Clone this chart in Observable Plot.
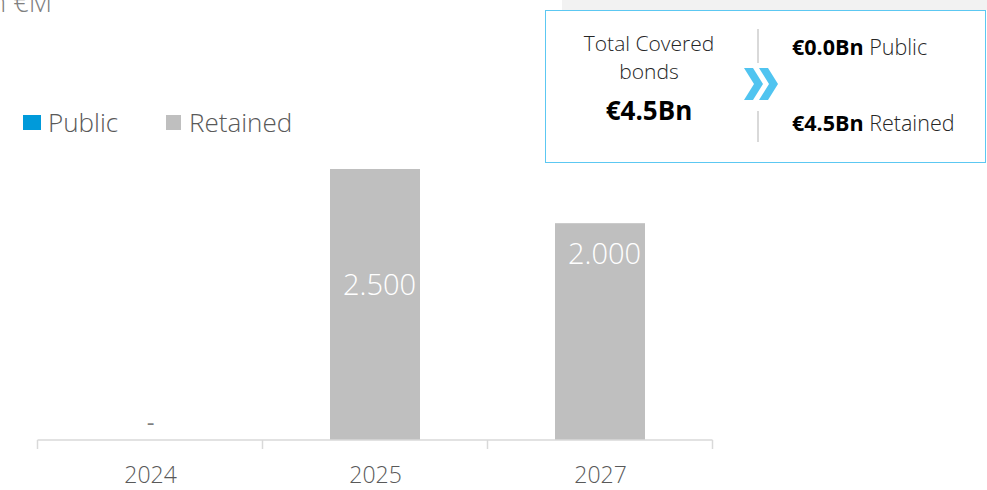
<!DOCTYPE html>
<html>
<head>
<meta charset="utf-8">
<script src="https://cdn.jsdelivr.net/npm/d3@7"></script>
<script src="https://cdn.jsdelivr.net/npm/@observablehq/plot@0.6"></script>
<style>
  html, body { margin: 0; padding: 0; background: #fff; overflow: hidden; }
  body { width: 987px; height: 490px; position: relative; font-family: "Open Sans", sans-serif; }
  #chart { position: absolute; left: 0; top: 0; }
  .abs { position: absolute; white-space: nowrap; }
  .unit { right: 935px; top: -17px; font-size: 27px; color: #808080; font-weight: 300; }
  .band { left: 562px; top: 0; width: 425px; height: 10px; background: #f2f2f2; }
  .box { left: 545px; top: 10px; width: 441px; height: 153px; border: 1.5px solid #5cc8f2; box-sizing: border-box; background: #fff; }
  .leg { top: 104px; font-size: 26px; color: #595959; font-weight: 300; }
  .btxt { color: #262626; font-size: 21.5px; }
  .btxt b { color: #000; }
</style>
</head>
<body>
<div id="chart"></div>
<script>
const categories = ["2024", "2025", "2027"];
const seriesNames = ["Public", "Retained"];
const publicValues = [0, 0, 0];
const retainedValues = [0, 2500, 2000];
const valueLabels = ["-", "2.500", "2.000"];
const seriesColors = ["#009ada", "#bfbfbf"];
const totalLabel = "€4.5Bn";
const publicTotalLabel = "€0.0Bn";
const retainedTotalLabel = "€4.5Bn";

const rows = [];
categories.forEach((c, i) => {
  rows.push({year: c, series: "Public", value: publicValues[i], label: valueLabels[i]});
  rows.push({year: c, series: "Retained", value: retainedValues[i], label: valueLabels[i]});
});
const retainedRows = rows.filter(d => d.series === "Retained");

// band boundary separator ticks and baseline drawn from the scales
function bandTicks(index, scales, values, dimensions) {
  const x = scales.x, y = scales.y;
  const bw = x.bandwidth();
  const step = x.step();
  const y0 = y(0);
  const g = d3.create("svg:g");
  const dom = x.domain();
  const edges = dom.map(d => x(d) - (step - bw) / 2);
  edges.push(x(dom[dom.length - 1]) + bw + (step - bw) / 2);
  edges.forEach(e => {
    g.append("line").attr("x1", e).attr("x2", e).attr("y1", y0).attr("y2", y0 + 9)
      .attr("stroke", "#d9d9d9").attr("stroke-width", 1.5);
  });
  g.append("line").attr("x1", edges[0]).attr("x2", edges[edges.length - 1])
    .attr("y1", y0).attr("y2", y0).attr("stroke", "#d9d9d9").attr("stroke-width", 1.5);
  return g.node();
}

const chart = Plot.plot({
  width: 987,
  height: 490,
  marginLeft: 37,
  marginRight: 275,
  marginTop: 169,
  marginBottom: 50,
  style: {fontFamily: "Open Sans, sans-serif", background: "transparent"},
  x: {domain: categories, paddingInner: 0.6, paddingOuter: 0.3, label: null},
  y: {domain: [0, 2500], axis: null},
  color: {domain: seriesNames, range: seriesColors},
  marks: [
    Plot.barY(rows, {x: "year", y: "value", fill: "series", order: seriesNames}),
    bandTicks,
    Plot.axisX({tickSize: 0, tickPadding: 26, fontSize: 23, fill: "#595959", fontWeight: 300, label: null}),
    Plot.text(retainedRows.filter(d => d.year === "2025"), {x: "year", y: "value", text: "label", dy: 116, dx: 4, fill: "#fff", fontSize: 29, fontWeight: 300}),
    Plot.text(retainedRows.filter(d => d.year === "2027"), {x: "year", y: "value", text: "label", dy: 31, dx: 4, fill: "#fff", fontSize: 29, fontWeight: 300}),
    Plot.text(retainedRows.filter(d => d.value === 0), {x: "year", y: "value", text: "label", dy: -17, fill: "#7f7f7f", fontSize: 24})
  ]
});
document.getElementById("chart").appendChild(chart);

// overlays
const body = document.body;
function add(html) { body.insertAdjacentHTML("beforeend", html); }
add(`<div class="abs unit">in €M</div>`);
add(`<div class="abs band"></div>`);
add(`<div class="abs box"></div>`);
add(`<div class="abs" style="left:23px;top:115px;width:18px;height:15px;background:${seriesColors[0]}"></div>`);
add(`<div class="abs leg" style="left:48px">${seriesNames[0]}</div>`);
add(`<div class="abs" style="left:166px;top:115px;width:15px;height:15px;background:${seriesColors[1]}"></div>`);
add(`<div class="abs leg" style="left:189px">${seriesNames[1]}</div>`);
add(`<div class="abs btxt" style="left:549px;width:200px;top:29px;text-align:center;line-height:28px;font-size:21px;color:#262626;font-weight:300">Total Covered<br>bonds</div>`);
add(`<div class="abs" style="left:549px;width:200px;top:92px;text-align:center;font-size:26px;font-weight:700;color:#000">${totalLabel}</div>`);
add(`<div class="abs" style="left:757px;top:29px;width:2px;height:34px;background:#d9d9d9"></div>`);
add(`<div class="abs" style="left:757px;top:111px;width:2px;height:31px;background:#d9d9d9"></div>`);
add(`<svg class="abs" style="left:742px;top:67px" width="40" height="36"><path d="M2,1 L11,1 L21,17 L11,33 L2,33 L12,17 Z" fill="#50c4f0"/><path d="M17,1 L26,1 L36,17 L26,33 L17,33 L27,17 Z" fill="#50c4f0"/></svg>`);
add(`<div class="abs btxt" style="left:792px;top:32px"><b>${publicTotalLabel}</b> <span style="font-weight:300">${seriesNames[0]}</span></div>`);
add(`<div class="abs btxt" style="left:792px;top:108px"><b>${retainedTotalLabel}</b> <span style="font-weight:300">${seriesNames[1]}</span></div>`);
</script>
</body>
</html>
